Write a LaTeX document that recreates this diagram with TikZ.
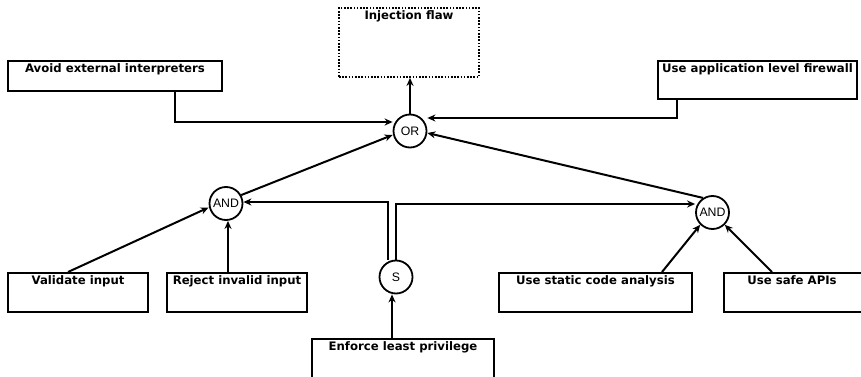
\documentclass[tikz,border=0pt]{standalone}
\usepackage{fontspec}
\newfontfamily\boxfont{DejaVu Sans}
\newfontfamily\gatefont{Liberation Sans}
\usetikzlibrary{arrows.meta}
\begin{document}
\begin{tikzpicture}[x=1pt,y=-1pt,
  box/.style={draw, rectangle, line width=2pt, inner sep=0pt},
  flawbox/.style={box, line width=1.8pt, dash pattern=on 1.6pt off 1.6pt},
  lab/.style={anchor=base, yshift=-12.5pt, inner sep=0pt, font=\boxfont\bfseries\fontsize{11.7}{14}\selectfont},
  gate/.style={draw, circle, line width=1.8pt, minimum size=33pt, inner sep=0pt, font=\gatefont\fontsize{12.3}{14}\selectfont},
  arr/.style={line width=2pt, -{Stealth[length=8pt,width=7pt]}}
]
\useasboundingbox (0,0) rectangle (861,377);
\fill[white] (0,0) rectangle (861,377);

\node[flawbox, minimum width=140pt, minimum height=69pt, label={[lab]north:Injection flaw}] (flaw) at (409,42.5) {};
\node[box, minimum width=214pt, minimum height=30pt, label={[lab]north:Avoid external interpreters}] (avoid) at (115,76) {};
\node[box, minimum width=199pt, minimum height=38pt, label={[lab]north:Use application level firewall}] (fw) at (757.5,80) {};
\node[box, minimum width=140pt, minimum height=39pt, label={[lab]north:Validate input}] (val) at (78,292.5) {};
\node[box, minimum width=140pt, minimum height=39pt, label={[lab]north:Reject invalid input}] (rej) at (237,292.5) {};
\node[box, minimum width=193pt, minimum height=39pt, label={[lab]north:Use static code analysis}] (sca) at (595.5,292.5) {};
\node[box, minimum width=152pt, minimum height=39pt, label={[lab, xshift=-8pt]north:Use safe APIs}] (safe) at (800,292.5) {};
\node[box, minimum width=182pt, minimum height=56pt, label={[lab]north:Enforce least privilege}] (elp) at (403,367) {};

\node[gate] (or) at (410,131) {OR};
\node[gate] (andl) at (226,203.5) {AND};
\node[gate] (andr) at (712.5,212.5) {AND};
\node[gate] (s) at (396,277) {S};

\draw[arr] (or.north) -- (or.north |- flaw.south);
\draw[arr] ([xshift=60pt]avoid.south) |- ([yshift=9pt]or.west);
\draw[arr] ([xshift=-80.5pt]fw.south) |- ([yshift=13pt]or.east);
\draw[arr] (andl.29) -- ([yshift=-4pt]or.west);
\draw[arr] (andr.123) -- ([yshift=-2pt]or.east);
\draw[arr] ([xshift=-8pt]s.north) |- ([yshift=1.5pt]andl.east);
\draw[arr] (s.north) |- ([yshift=8.5pt]andr.west);
\draw[arr] ([xshift=-10pt]val.north) -- ([yshift=-4pt]andl.west);
\draw[arr] ([xshift=-9pt]rej.north) -- ([xshift=-9pt]rej.north |- andl.south);
\draw[arr] ([xshift=66.5pt]sca.north) -- (andr.south west);
\draw[arr] ([xshift=-28pt]safe.north) -- (andr.south east);
\draw[arr] ([xshift=-11pt]elp.north) -- ([xshift=-11pt]elp.north |- s.south);
\end{tikzpicture}
\end{document}
